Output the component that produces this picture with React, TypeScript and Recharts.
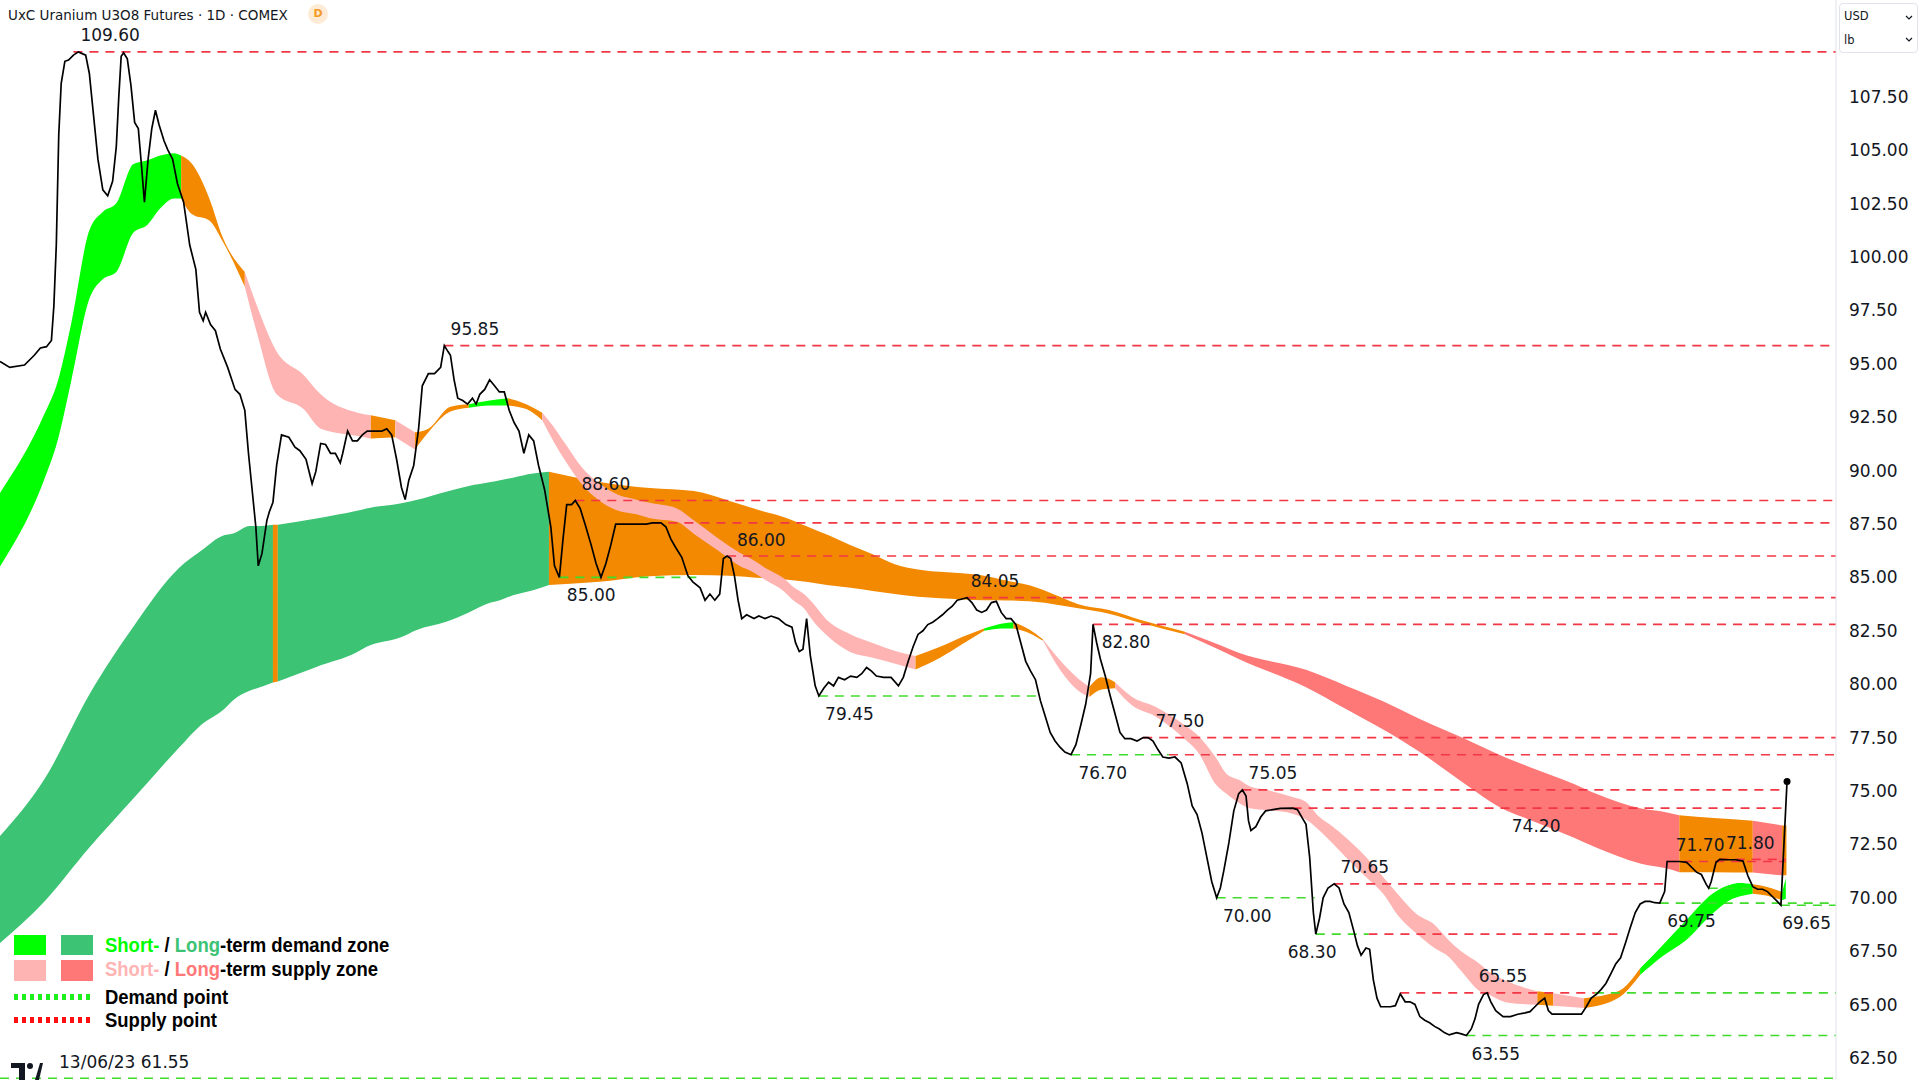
import React from "react"
import {
 ComposedChart,
 Area,
 Line,
 XAxis,
 YAxis,
 ReferenceLine,
 ReferenceDot
} from "recharts"

type Zone = "demand" | "supply" | "neutral"
type Pt = [number, number, number] // day, upper, lower

// daily close, [day index, price]
const price: [number, number][] = [
 [0,95.11],[1.6,94.83],[4,94.94],[5.6,95.40],[6.6,95.74],[7.6,95.80],[8.4,96.09],[8.8,97.70],[9.2,100.56],[9.6,105.72],
 [10,108.13],[10.6,109.16],[11.2,109.22],[12,109.45],[12.8,109.60],[14,109.45],[14.6,108.59],[15.2,106.87],[16,104.58],[16.8,103.14],
 [17.6,102.86],[18.4,103.54],[19,105.15],[19.4,107.44],[19.8,109.39],[20.2,109.56],[20.8,109.28],[21.4,108.02],[22,106.30],[22.6,106.01],
 [23.2,104.00],[23.6,102.57],[24.2,104.58],[24.8,106.01],[25.4,106.87],[26,106.18],[26.8,105.44],[27.4,105.03],[28.2,104.58],[29,103.43],
 [30,102.57],[31,100.56],[32,99.42],[32.6,97.41],[33.2,97.01],[33.6,97.41],[34.4,96.84],[35.2,96.55],[36,95.69],[37.2,94.83],
 [38.4,93.80],[39.2,93.57],[40,92.82],[40.6,90.81],[41.2,89.09],[41.8,87.37],[42.2,85.54],[42.8,86.11],[43.6,87.66],[44,88.06],
 [44.6,88.52],[45.2,90.24],[46,91.67],[47.2,91.56],[48.2,91.10],[49,90.93],[50,90.53],[51,89.38],[51.6,89.95],[52.4,91.27],
 [53.2,91.22],[54,90.81],[54.8,90.81],[55.6,90.36],[56,90.81],[56.8,91.85],[57.6,91.39],[58.4,91.39],[59.2,91.67],[60,91.85],
 [61.2,91.85],[62.4,91.85],[63.2,91.96],[64,91.67],[64.8,90.53],[65.6,89.21],[66.2,88.64],[66.8,89.55],[67.6,90.24],[68.4,91.96],
 [69,93.97],[70,94.54],[71,94.54],[72,94.83],[72.6,95.85],[73.2,95.57],[73.6,95.40],[74.2,94.25],[74.8,93.39],[75.6,93.28],
 [76.4,93.11],[77.2,93.39],[77.8,93.11],[78.4,93.57],[79.2,93.80],[80,94.25],[80.8,93.97],[81.6,93.68],[82.4,93.68],[83.2,92.82],
 [84,92.25],[84.8,91.85],[85.6,90.81],[86.4,91.67],[87.2,91.39],[88,90.24],[89,89.09],[90,87.37],[90.6,85.54],[91.4,85.00],
 [92,86.80],[92.6,88.41],[93.4,88.41],[94,88.60],[94.8,88.23],[95.6,87.49],[96.6,86.51],[97.4,85.65],[98.2,85.00],[99,85.65],
 [99.8,86.51],[100.6,87.49],[101.6,87.49],[103,87.49],[104.4,87.49],[105.6,87.49],[106.6,87.55],[108,87.55],[108.8,87.37],[109.6,86.80],
 [110.4,86.40],[111.4,85.94],[112.4,85.08],[113.2,84.79],[114.4,84.51],[115.2,83.93],[116,84.22],[116.8,83.93],[117.6,84.22],[118.2,85.88],
 [118.8,86.00],[119.4,85.88],[120,85.08],[120.6,83.93],[121.2,83.07],[122,83.25],[123.2,83.07],[124,83.19],[125,83.07],[126,83.19],
 [127.2,83.07],[128.4,82.79],[129.4,82.67],[130,81.93],[130.6,81.53],[131.2,81.64],[131.8,83.07],[132.4,81.35],[133.2,79.92],[133.8,79.45],
 [134.6,79.81],[135.4,80.09],[136.2,79.92],[137,80.32],[138,80.21],[139,80.38],[140,80.32],[140.8,80.49],[141.6,80.78],[142.4,80.61],
 [143.2,80.38],[144.4,80.32],[145.6,80.32],[146.8,79.92],[147.6,80.32],[148.4,81.07],[149.2,81.75],[150,82.33],[150.8,82.50],[151.6,82.79],
 [152.4,82.90],[153.2,83.07],[154,83.25],[154.8,83.47],[155.6,83.65],[156.4,83.93],[157.2,83.99],[158,84.05],[158.8,83.82],[159.6,83.47],
 [160.4,83.36],[161.2,83.47],[162,83.82],[162.8,83.88],[163.6,83.36],[164.4,83.07],[165.2,83.07],[166,82.79],[166.8,81.93],[167.6,81.07],
 [168.4,80.61],[169.2,80.21],[170,79.23],[170.8,78.49],[171.6,77.74],[172.4,77.34],[173.2,77.05],[174,76.82],[175,76.70],[175.8,77.17],
 [176.6,78.09],[177.4,79.06],[178.2,80.49],[178.6,82.80],[179.2,81.93],[179.8,81.18],[180.6,80.38],[181.4,79.46],[182.2,78.60],[183,77.74],
 [183.8,77.45],[184.8,77.45],[185.8,77.34],[186.8,77.50],[187.6,77.50],[188.4,77.34],[189.2,76.94],[190,76.59],[191,76.54],[192,76.59],
 [193,76.31],[194,75.33],[194.8,74.30],[195.6,73.90],[196.4,73.04],[197.2,71.89],[198,70.75],[198.8,70.00],[199.4,70.46],[200,71.32],
 [200.8,72.58],[201.6,74.07],[202.4,74.87],[203,75.05],[203.6,74.76],[204,73.61],[204.4,73.15],[205.2,73.33],[206,73.78],[206.8,74.07],
 [208,74.13],[209.2,74.19],[211.2,74.20],[212,74.13],[212.8,73.73],[213.4,73.44],[214,71.89],[214.6,69.31],[215,68.30],[215.6,69.03],
 [216.2,70.00],[217,70.46],[218,70.65],[218.8,70.46],[219.6,69.71],[220.4,69.31],[221.2,68.45],[221.8,67.76],[222.4,67.31],[223.2,67.65],
 [223.8,67.59],[224.4,66.16],[225,65.30],[225.6,64.90],[226.4,64.90],[227.2,64.90],[228,64.95],[228.8,65.50],[229.6,65.13],[230.4,65.13],
 [231.2,65.01],[232,64.44],[232.8,64.27],[233.6,64.15],[234.4,63.98],[235.2,63.86],[236,63.69],[236.8,63.58],[238,63.69],[238.8,63.63],
 [239.6,63.55],[240.4,63.86],[241,64.32],[241.6,65.01],[242.4,65.47],[243,65.55],[243.6,65.13],[244.4,64.72],[245.6,64.44],[246.8,64.44],
 [248,64.55],[249.2,64.61],[250,64.67],[250.8,64.90],[251.6,65.13],[252.4,65.30],[253,64.72],[253.6,64.55],[256,64.55],[258.4,64.55],
 [259.2,64.90],[260,65.30],[260.8,65.47],[261.6,65.70],[262.4,65.99],[263.2,66.44],[264,66.90],[264.8,67.19],[265.6,67.88],[266.4,68.62],
 [267.2,69.31],[268,69.71],[268.8,69.83],[269.6,69.83],[270.4,69.77],[271.2,69.75],[272,70.29],[272.4,71.70],[273.2,71.70],[274.4,71.70],
 [275.6,71.66],[276.4,71.43],[277.2,71.20],[278,71.09],[278.8,70.63],[279.2,70.45],[279.6,70.75],[280.4,71.66],[281,71.80],[282.4,71.78],
 [283.6,71.78],[284.8,71.72],[285.6,71.03],[286.4,70.52],[287.2,70.40],[288,70.40],[288.8,70.29],[289.6,70.06],[290.4,69.83],[291,69.65],
 [292,75.45]
]

// short-term zone, split where its state changes
const shortTerm: { zone: Zone; pts: Pt[] }[] = [
 { zone: "demand", pts: [[0,88.95,85.51],[7.3,92.68,89.64],[9.4,94.14,91.39],[11.6,96.84,94.14],[14.6,101.25,98.04],[16.8,102.11,98.96],[19,102.51,99.30],[21.8,104.35,101.14],[24,104.52,101.48],[26.2,104.75,102.28],[28.4,104.86,102.74],[29.6,104.75,102.74]] },
 { zone: "neutral", pts: [[29.6,104.75,102.74],[31.4,104.35,102.00],[34.2,102.74,101.71],[36.4,100.91,100.73],[40,99.30,98.61]] },
 { zone: "supply", pts: [[40,99.30,98.61],[42,97.70,96.43],[45.2,95.57,93.57],[49.6,94.48,92.88],[52.4,93.57,91.96],[58.4,92.71,91.62],[60.6,92.59,91.50]] },
 { zone: "neutral", pts: [[60.6,92.59,91.50],[64.6,92.36,91.56]] },
 { zone: "supply", pts: [[64.6,92.36,91.56],[67.8,91.79,90.99]] },
 { zone: "neutral", pts: [[67.8,91.79,90.99],[70,91.96,91.79],[73.6,92.99,92.76],[76.6,93.11,92.94]] },
 { zone: "demand", pts: [[76.6,93.11,92.94],[80,93.28,93.05],[83,93.39,93.05]] },
 { zone: "neutral", pts: [[83,93.39,93.05],[86,93.11,92.88],[88.6,92.71,92.36]] },
 { zone: "supply", pts: [[88.6,92.71,92.36],[90.4,92.08,91.39],[92.6,91.16,90.36],[95,90.18,89.38],[98,89.38,88.58],[101,88.87,88.12],[104,88.64,87.95],[106.2,88.49,87.77],[110.6,88.23,87.60],[113.4,87.66,87.03],[117.2,86.86,86.28],[120.8,86.17,85.54],[123,85.83,85.25],[125.2,85.42,84.85],[128,84.97,84.36],[129.6,84.56,83.93],[131.6,84.16,83.47],[132.4,83.93,83.13],[135.4,82.93,82.21],[139,82.33,81.50],[142.6,81.93,81.24],[147,81.50,80.90],[149.6,81.32,80.69]] },
 { zone: "neutral", pts: [[149.6,81.32,80.69],[153.6,81.75,81.24],[157.2,82.21,81.87],[160.8,82.61,82.50]] },
 { zone: "demand", pts: [[160.8,82.61,82.50],[163.8,82.84,82.61],[165.6,82.90,82.61]] },
 { zone: "neutral", pts: [[165.6,82.90,82.61],[168.2,82.56,82.39],[170.4,82.10,82.04]] },
 { zone: "supply", pts: [[170.4,82.10,82.04],[173.2,81.12,80.67],[176.2,80.26,79.69],[178,79.87,79.40]] },
 { zone: "neutral", pts: [[178,79.87,79.40],[180,80.32,79.75],[182.2,80.09,79.81]] },
 { zone: "supply", pts: [[182.2,80.09,79.81],[185,79.40,79.00],[188.8,78.94,78.49],[193.2,78.16,77.53],[196,77.53,76.71],[198.6,76.59,75.33],[200.4,75.81,74.87],[202.6,75.50,74.41],[204.2,75.22,74.19],[207,75.05,74.10],[211.2,74.72,73.94],[213.4,74.49,73.67],[215.6,73.78,73.15],[217.8,73.33,72.53],[220.4,72.69,71.75],[223.2,71.91,70.97],[226,70.97,70.19],[228.6,70.11,69.11],[231.4,69.25,68.34],[234.4,68.74,67.65],[236.8,67.99,67.22],[238.8,67.48,66.56],[241.8,66.90,65.63],[243.2,66.56,65.47],[246.2,66.10,65.10],[251.2,65.62,64.99]] },
 { zone: "neutral", pts: [[251.2,65.62,64.99],[253.8,65.53,64.95]] },
 { zone: "supply", pts: [[253.8,65.53,64.95],[258.8,65.30,64.84]] },
 { zone: "neutral", pts: [[258.8,65.30,64.84],[264.4,65.62,65.31],[268,66.70,66.39]] },
 { zone: "demand", pts: [[268,66.70,66.39],[271.6,67.76,67.25],[275.4,68.91,67.99],[279.8,70.19,69.25],[283,70.63,69.94],[284.2,70.69,70.06],[286.4,70.63,70.19]] },
 { zone: "neutral", pts: [[286.4,70.63,70.19],[288.6,70.52,70.11],[291.2,70.27,69.89]] },
 { zone: "demand", pts: [[291.2,70.27,69.89],[291.8,70.92,69.96]] }
]

// long-term zone
const longTerm: { zone: Zone; pts: Pt[] }[] = [
 { zone: "demand", pts: [[0,72.89,67.88],[7.3,75.57,69.84],[14.6,79.52,72.35],[21.9,82.74,74.68],[29.2,85.43,77.01],[32.8,86.23,78.08],[36.5,86.96,78.80],[38.1,87.05,79.25],[40.8,87.40,79.69],[42,87.40,79.81],[44.6,87.46,80.08]] },
 { zone: "neutral", pts: [[44.6,87.46,80.08],[45.4,87.46,80.13]] },
 { zone: "demand", pts: [[45.4,87.46,80.13],[51.7,87.76,80.81],[58.3,88.12,81.49],[59.9,88.23,81.75],[65.6,88.47,82.21],[68,88.62,82.53],[72.9,89.01,82.92],[76.6,89.28,83.36],[80.2,89.46,83.82],[81.7,89.55,83.93],[83.8,89.67,84.16],[87.1,89.86,84.40],[89.7,89.94,84.64]] },
 { zone: "neutral", pts: [[89.7,89.94,84.64],[98,89.47,84.79],[106.2,89.18,85.05],[113.4,89.04,85.11],[119.2,88.58,85.08],[124.4,88.12,84.97],[128,87.83,84.91],[131.7,87.41,84.79],[135.4,86.97,84.63],[139,86.51,84.51],[142.6,86.08,84.36],[146.2,85.62,84.22],[150,85.37,84.09],[153.6,85.26,84.02],[157.2,85.19,83.97],[160.8,85.08,83.93],[164.4,84.85,83.92],[168.2,84.63,83.88],[173.2,84.09,83.70],[176.2,83.74,83.55],[181.2,83.47,83.30],[186.4,83.00,82.86],[190,82.72,82.60],[193.6,82.46,82.34]] },
 { zone: "supply", pts: [[193.6,82.46,82.34],[199.5,81.81,81.58],[202.4,81.47,81.18],[213.4,80.67,79.86],[220,79.92,78.83],[225.8,79.23,77.91],[232,78.37,76.82],[238.8,77.51,75.45],[246.2,76.54,74.07],[249.8,76.14,73.67],[257.2,75.33,72.81],[260.8,74.87,72.35],[268,74.19,71.61],[272.2,74.01,71.38],[274.4,73.86,71.20]] },
 { zone: "neutral", pts: [[274.4,73.86,71.20],[280,73.73,71.20],[286.4,73.61,71.18]] },
 { zone: "supply", pts: [[286.4,73.61,71.18],[291.2,73.39,71.05]] },
 { zone: "neutral", pts: [[291.2,73.39,71.05],[291.9,73.38,71.05]] }
]

// supply / demand points: [level, from day, to day]
const supplyPoints: [number, number, number][] = [
 [109.60,12,300],[95.85,72.6,300],[88.60,94,300],[87.55,106.6,300],[86.00,118.8,300],
 [84.05,158,300],[82.80,178.6,300],[77.50,186.8,300],[76.70,191,300],[75.05,203,291.6],
 [74.20,211.2,292],[70.65,218,272.2],[68.30,223.6,265.4],[65.55,228.8,260.6],[71.70,272.4,291.8],
 [71.80,281,291.8]
]
const demandPoints: [number, number, number][] = [
 [85.00,91.4,113.8],[79.45,133.8,170.4],[76.70,175,191],[70.00,198.8,214.8],[68.30,215,223.6],
 [65.55,260.6,300],[63.55,239.6,300],[69.75,271.2,300],[70.45,279.2,286.4],[69.65,291,300],
 [61.55,0,300]
]

// price labels: [level, day of label, side]
const pointLabels: [number, number, "up" | "down"][] = [
 [109.60,18,"up"],[95.85,77.6,"up"],[88.60,99,"up"],[86.00,124.4,"up"],[85.00,96.6,"down"],
 [84.05,162.6,"up"],[82.80,184,"down"],[79.45,138.8,"down"],[77.50,192.8,"up"],[76.70,180.2,"down"],
 [75.05,208,"up"],[74.20,251,"down"],[70.65,223,"up"],[70.00,203.8,"down"],[68.30,214.4,"down"],
 [65.55,245.6,"up"],[63.55,244.4,"down"],[71.70,277.8,"up"],[71.80,286,"up"],[69.75,276.4,"down"],
 [69.65,295.2,"down"]
]
const firstDate = "13/06/23"

const yTicks = [62.5,65,67.5,70,72.5,75,77.5,80,82.5,85,87.5,90,92.5,95,97.5,100,102.5,105,107.5]

const ST_FILL: Record<Zone,string> = { demand:"#00ff00", supply:"#ffb4b4", neutral:"#f28900" }
const LT_FILL: Record<Zone,string> = { demand:"#3cc374", supply:"#ff7878", neutral:"#f28900" }
const RED = "#f23645"
const GREEN = "#3fdc2c"

const rows = (pts: Pt[]) => pts.map(([d, hi, lo]) => ({ d, r: [lo, hi] }))
const priceRows = price.map(([d, v]) => ({ d, v }))
const last = price[price.length - 1]

const textLabel = (txt: string, dy: number) => (p: any) => (
 <text x={p.cx} y={p.cy + dy} textAnchor="middle" dominantBaseline="central"
  fontFamily="DejaVu Sans" fontSize={17} fill="#131722">{txt}</text>
)

const legendText: React.CSSProperties = {
 position:"absolute", left:105, height:24, lineHeight:"24px",
 fontFamily:"'Liberation Sans', Arial, sans-serif", fontWeight:700, fontSize:21,
 color:"#000", whiteSpace:"nowrap", transform:"scaleX(0.88)", transformOrigin:"left center"
}

const dotted = (color: string): React.CSSProperties => ({
 position:"absolute", left:14, width:79, height:6,
 background:`repeating-linear-gradient(to right, ${color} 0 4px, transparent 4px 8px)`
})

export default function App(){

 return(

  <div style={{position:"absolute", left:0, top:0, width:1920, height:1080, background:"#fff", overflow:"hidden"}}>

   <ComposedChart width={1920} height={1080} data={priceRows}
    margin={{top:0, right:0, bottom:0, left:0}}
    style={{fontFamily:"DejaVu Sans"}}>

    <XAxis dataKey="d" type="number" domain={[0,300]} hide allowDataOverflow />
    <YAxis orientation="right" type="number" domain={[61.47,112.03]} allowDataOverflow
     ticks={yTicks} width={84} tickLine={false} tickSize={6} tickMargin={7}
     axisLine={{stroke:"#e0e3eb"}}
     tick={{fontSize:17, fill:"#131722", fontFamily:"DejaVu Sans", textAnchor:"start"}}
     tickFormatter={(v:number)=>v.toFixed(2)} />

    {longTerm.map((s,i)=>(
     <Area key={"lt"+i} data={rows(s.pts)} dataKey="r" type="monotone"
      stroke="none" fill={LT_FILL[s.zone]} fillOpacity={1}
      dot={false} activeDot={false} isAnimationActive={false} />
    ))}

    {shortTerm.map((s,i)=>(
     <Area key={"st"+i} data={rows(s.pts)} dataKey="r" type="monotone"
      stroke="none" fill={ST_FILL[s.zone]} fillOpacity={1}
      dot={false} activeDot={false} isAnimationActive={false} />
    ))}

    {supplyPoints.map(([v,a,b],i)=>(
     <ReferenceLine key={"s"+i} segment={[{x:a,y:v},{x:b,y:v}]}
      stroke={RED} strokeWidth={1.6} strokeDasharray="9 7" />
    ))}
    {demandPoints.map(([v,a,b],i)=>(
     <ReferenceLine key={"g"+i} segment={[{x:a,y:v},{x:b,y:v}]}
      stroke={GREEN} strokeWidth={1.6} strokeDasharray="9 7" />
    ))}

    <Line dataKey="v" type="linear" stroke="#000" strokeWidth={1.7}
     dot={false} activeDot={false} isAnimationActive={false} />

    <ReferenceDot x={last[0]} y={last[1]} r={3.5} fill="#000" stroke="none" />

    {pointLabels.map(([v,d,side],i)=>(
     <ReferenceDot key={"l"+i} x={d} y={v} r={0} ifOverflow="visible"
      shape={textLabel(v.toFixed(2), side==="up" ? -16.5 : 18)} />
    ))}
    <ReferenceDot x={20.3} y={61.55} r={0} ifOverflow="visible"
     shape={textLabel(firstDate+" 61.55", -16)} />

   </ComposedChart>

   {/* header */}
   <div style={{position:"absolute", left:8, top:6, fontFamily:"DejaVu Sans", fontSize:13.5,
    lineHeight:"18px", color:"#131722", whiteSpace:"nowrap"}}>
    UxC Uranium U3O8 Futures · 1D · COMEX
   </div>
   <div style={{position:"absolute", left:308, top:4, width:20, height:20, borderRadius:10,
    background:"#fdebd5", color:"#f59a23", fontFamily:"DejaVu Sans", fontWeight:700,
    fontSize:11, lineHeight:"20px", textAlign:"center"}}>D</div>

   {/* currency / unit box */}
   <div style={{position:"absolute", left:1839, top:3, width:77, height:48, border:"1px solid #e0e3eb",
    borderRadius:4, background:"#fff", fontFamily:"DejaVu Sans", fontSize:11.5, color:"#131722"}}>
    <div style={{position:"absolute", left:4, top:4, lineHeight:"16px"}}>USD</div>
    <div style={{position:"absolute", left:4, top:28, lineHeight:"16px"}}>lb</div>
    <svg style={{position:"absolute", left:65, top:9}} width={8} height={30}>
     <polyline points="1,3 4,6 7,3" fill="none" stroke="#131722" strokeWidth={1.2}/>
     <polyline points="1,25 4,28 7,25" fill="none" stroke="#131722" strokeWidth={1.2}/>
    </svg>
   </div>

   {/* legend */}
   <div style={{position:"absolute", left:14, top:935, width:32, height:20, background:ST_FILL.demand}}/>
   <div style={{position:"absolute", left:61, top:935, width:32, height:20, background:LT_FILL.demand}}/>
   <div style={{position:"absolute", left:14, top:960, width:32, height:21, background:ST_FILL.supply}}/>
   <div style={{position:"absolute", left:61, top:960, width:32, height:21, background:LT_FILL.supply}}/>
   <div style={{...dotted("#1cef1c"), top:994}}/>
   <div style={{...dotted("#ff1010"), top:1017}}/>
   <div style={{...legendText, top:933}}>
    <span style={{color:ST_FILL.demand}}>Short-</span> / <span style={{color:LT_FILL.demand}}>Long</span>-term demand zone
   </div>
   <div style={{...legendText, top:957}}>
    <span style={{color:ST_FILL.supply}}>Short-</span> / <span style={{color:LT_FILL.supply}}>Long</span>-term supply zone
   </div>
   <div style={{...legendText, top:985}}>Demand point</div>
   <div style={{...legendText, top:1008}}>Supply point</div>

   {/* logo */}
   <svg style={{position:"absolute", left:11, top:1062}} width={32} height={18}>
    <path d="M0 1 H14 V18 H8 V6 H0 Z" fill="#131722"/>
    <circle cx={19} cy={4} r={3} fill="#131722"/>
    <path d="M24 18 L29 1 H32 L28 18 Z" fill="#131722"/>
   </svg>

  </div>

 )

}
